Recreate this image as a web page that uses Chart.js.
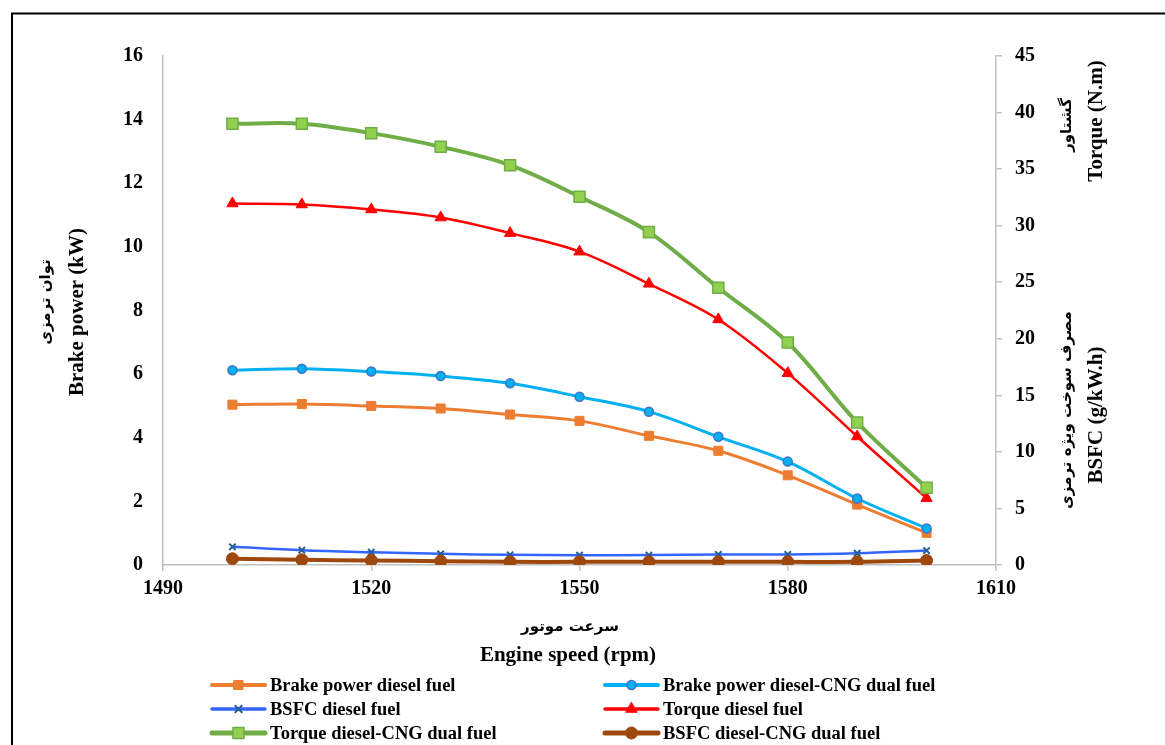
<!DOCTYPE html>
<html>
<head>
<meta charset="utf-8">
<script src="https://cdn.jsdelivr.net/npm/chart.js@4.4.0/dist/chart.umd.min.js"></script>
<style>
html, body { margin: 0; padding: 0; background: #fff; overflow: hidden; }
canvas { display: block; }
</style>
</head>
<body>
<canvas id="enginechart" width="1165" height="745"></canvas>
<script>
// Engine speed (rpm)
const speeds = [1500, 1510, 1520, 1530, 1540, 1550, 1560, 1570, 1580, 1590, 1600];
// Brake power (kW), left axis
const brakePowerDiesel = [5.04, 5.06, 5.00, 4.92, 4.73, 4.53, 4.06, 3.59, 2.82, 1.90, 1.01];
const brakePowerCNG = [6.12, 6.17, 6.08, 5.94, 5.71, 5.29, 4.82, 4.03, 3.25, 2.09, 1.15];
// BSFC and torque, right axis
const bsfcDiesel = [1.61, 1.31, 1.13, 0.99, 0.90, 0.87, 0.88, 0.93, 0.93, 1.04, 1.28];
const torqueDiesel = [31.96, 31.87, 31.43, 30.72, 29.34, 27.70, 24.86, 21.71, 16.96, 11.36, 5.91];
const torqueCNG = [39.01, 39.01, 38.18, 36.98, 35.35, 32.56, 29.43, 24.51, 19.67, 12.60, 6.83];
const bsfcCNG = [0.55, 0.46, 0.40, 0.34, 0.28, 0.28, 0.28, 0.28, 0.28, 0.28, 0.40];

const seriesNames = [
	'Brake power diesel fuel',
	'Brake power diesel-CNG dual fuel',
	'BSFC diesel fuel',
	'Torque diesel fuel',
	'Torque diesel-CNG dual fuel',
	'BSFC diesel-CNG dual fuel'
];

const serif = '"Liberation Serif", "Times New Roman", serif';
const persian = '"DejaVu Sans", sans-serif';
const axisColor = '#c0c0c0';

function toPoints(vals) {
	return vals.map((v, i) => ({x: speeds[i], y: v}));
}

// Frame, axis titles and the two-column legend are drawn here
const overlayPlugin = {
	id: 'overlay',
	beforeDraw(chart) {
		const ctx = chart.ctx;
		ctx.save();
		ctx.fillStyle = '#fff';
		ctx.fillRect(0, 0, chart.width, chart.height);
		ctx.strokeStyle = '#000';
		ctx.lineWidth = 2;
		ctx.strokeRect(12, 13.5, 1400, 1000);
		ctx.restore();
	},
	afterDraw(chart) {
		const ctx = chart.ctx;
		ctx.save();
		ctx.fillStyle = '#000';
		ctx.textAlign = 'center';
		ctx.textBaseline = 'middle';

		// x axis title
		ctx.font = 'bold 15px ' + persian;
		ctx.direction = 'rtl';
		ctx.fillText('سرعت موتور', 570, 627);
		ctx.direction = 'ltr';
		ctx.font = 'bold 21px ' + serif;
		ctx.fillText('Engine speed (rpm)', 568, 656);

		// rotated titles
		const vtext = (txt, x, y, font, rtl) => {
			ctx.save();
			ctx.translate(x, y);
			ctx.rotate(-Math.PI / 2);
			ctx.font = font;
			ctx.direction = rtl ? 'rtl' : 'ltr';
			ctx.fillText(txt, 0, 0);
			ctx.restore();
		};
		vtext('توان ترمزی', 46, 302, 'bold 15px ' + persian, true);
		vtext('Brake power (kW)', 78, 312, 'bold 21px ' + serif, false);
		vtext('گشتاور', 1067, 125, 'bold 15px ' + persian, true);
		vtext('Torque (N.m)', 1097, 121, 'bold 21px ' + serif, false);
		vtext('مصرف سوخت ویژه ترمزی', 1067, 410, 'bold 15px ' + persian, true);
		vtext('BSFC (g/kW.h)', 1097, 415, 'bold 21px ' + serif, false);

		// legend
		const colX = [212, 605];
		chart.data.datasets.forEach((ds, i) => {
			const x0 = colX[i % 2];
			const y = 685 + Math.floor(i / 2) * 24;
			ctx.strokeStyle = ds.borderColor;
			ctx.lineWidth = ds.borderWidth + 1;
			ctx.lineCap = 'round';
			ctx.beginPath();
			ctx.moveTo(x0, y);
			ctx.lineTo(x0 + 53, y);
			ctx.stroke();
			ctx.fillStyle = ds.pointBackgroundColor;
			ctx.strokeStyle = ds.pointBorderColor;
			ctx.lineWidth = ds.pointBorderWidth;
			Chart.helpers.drawPoint(ctx, {
				pointStyle: ds.pointStyle,
				radius: ds.pointRadius,
				rotation: 0,
				borderWidth: ds.pointBorderWidth
			}, x0 + 26.5, y);
			ctx.fillStyle = '#000';
			ctx.textAlign = 'left';
			ctx.font = 'bold 18.5px ' + serif;
			ctx.fillText(ds.label, x0 + 58, y + 1);
		});
		ctx.restore();
	}
};

function series(idx, vals, axis, line, fill, border, style, radius, width, bw) {
	return {
		label: seriesNames[idx],
		data: toPoints(vals),
		yAxisID: axis,
		borderColor: line,
		borderWidth: width,
		pointBackgroundColor: fill,
		pointBorderColor: border,
		pointBorderWidth: bw,
		pointStyle: style,
		pointRadius: radius,
		tension: 0.35,
		fill: false,
		order: 5 - idx
	};
}

new Chart('enginechart', {
	type: 'line',
	data: {
		datasets: [
			series(0, brakePowerDiesel, 'y', '#ED7D31', '#ED7D31', '#ED7D31', 'rect', 6.4, 3, 1),
			series(1, brakePowerCNG, 'y', '#00B0F0', '#00B0F0', '#4472C4', 'circle', 4.5, 3, 1.5),
			series(2, bsfcDiesel, 'y1', '#3366FF', '#255E91', '#255E91', 'crossRot', 4.5, 2.5, 2),
			series(3, torqueDiesel, 'y1', '#FF0000', '#FF0000', '#FF0000', 'triangle', 6.5, 2.5, 1),
			series(4, torqueCNG, 'y1', '#70AD47', '#92D050', '#70AD47', 'rect', 7.8, 4, 1.5),
			series(5, bsfcCNG, 'y1', '#9E480E', '#9E480E', '#9E480E', 'circle', 6, 4, 1)
		]
	},
	options: {
		responsive: false,
		animation: false,
		layout: {
			padding: {top: 56, bottom: 0, left: 0, right: 0}
		},
		plugins: {
			legend: {display: false},
			tooltip: {enabled: false}
		},
		scales: {
			x: {
				type: 'linear',
				min: 1490,
				max: 1610,
				afterFit: (s) => { s.height = 180; },
				ticks: {
					stepSize: 30,
					color: '#000',
					padding: 6,
					callback: (v) => String(v),
					font: {family: serif, size: 20, weight: 'bold'}
				},
				grid: {
					drawOnChartArea: false,
					drawTicks: true,
					tickLength: 6,
					color: axisColor,
					lineWidth: 1.5
				},
				border: {color: axisColor, width: 1.5}
			},
			y: {
				position: 'left',
				min: 0,
				max: 16,
				afterFit: (s) => { s.width = 163; },
				ticks: {
					stepSize: 2,
					color: '#000',
					padding: 12,
					font: {family: serif, size: 20, weight: 'bold'}
				},
				grid: {display: false},
				border: {display: true, color: axisColor, width: 1.5}
			},
			y1: {
				position: 'right',
				min: 0,
				max: 45,
				afterFit: (s) => { s.width = 169; },
				ticks: {
					stepSize: 5,
					color: '#000',
					padding: 13,
					font: {family: serif, size: 20, weight: 'bold'}
				},
				grid: {
					drawOnChartArea: false,
					drawTicks: true,
					tickLength: 6,
					color: axisColor,
					lineWidth: 1.5
				},
				border: {color: axisColor, width: 1.5}
			}
		}
	},
	plugins: [overlayPlugin]
});
</script>
</body>
</html>
